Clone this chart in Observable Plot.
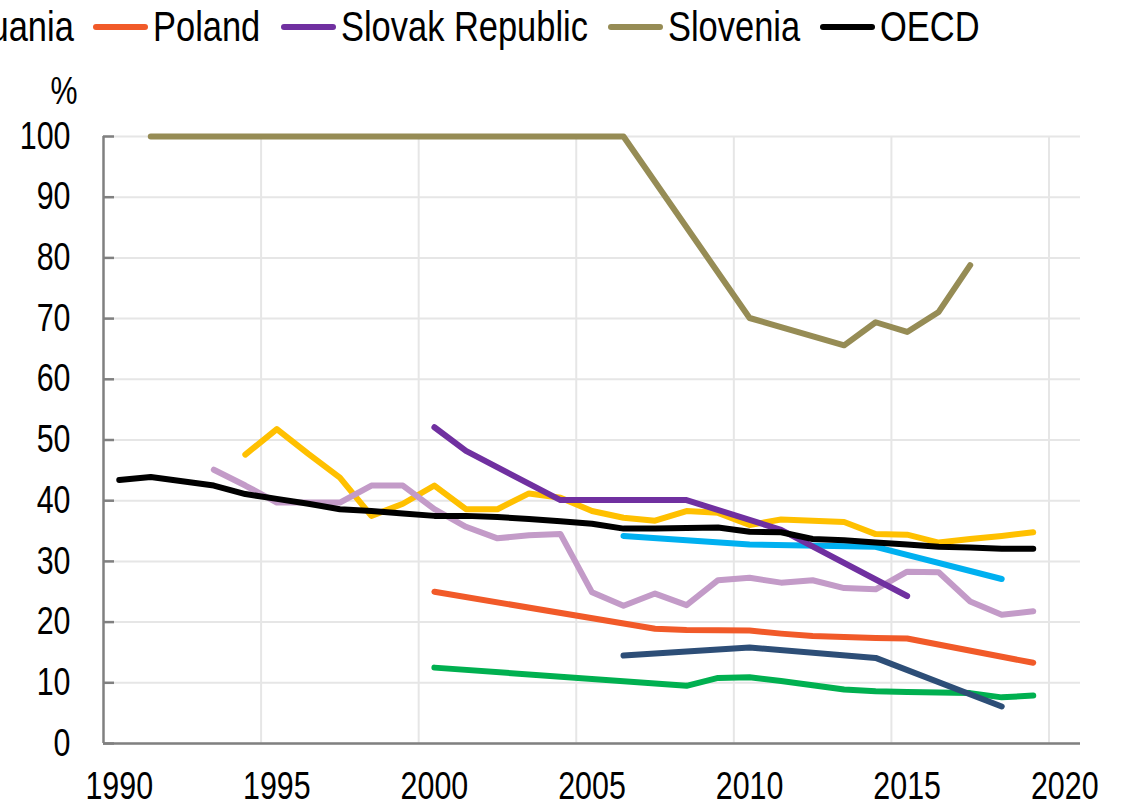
<!DOCTYPE html>
<html>
<head>
<meta charset="utf-8">
<script src="https://cdn.jsdelivr.net/npm/d3@7"></script>
<script src="https://cdn.jsdelivr.net/npm/@observablehq/plot@0.6"></script>
<style>
  html, body { margin: 0; padding: 0; background: #fff; }
  body { width: 1127px; height: 807px; overflow: hidden; font-family: "Liberation Sans", Arial, sans-serif; }
  #legend { position: relative; width: 1127px; height: 55px; overflow: hidden; }
  #legend .row { position: absolute; top: 6px; left: 0; display: flex; align-items: center; white-space: nowrap; font-size: 42px; line-height: 42px; color: #000; }
  #legend .item { display: flex; align-items: center; margin-right: 20px; }
  #legend .sw { display: inline-block; flex: none; width: 55px; height: 6px; border-radius: 3px; margin-right: 5px; }
  #legend .lw { display: inline-block; flex: none; overflow: visible; }
  #legend .lt { display: inline-block; transform: scaleX(0.82); transform-origin: 0 50%; }
  #chart svg { display: block; }
</style>
</head>
<body>
<div id="legend"><div class="row"></div></div>
<div id="chart"></div>
<script>
// ---- data ----
const seriesNames = ["Czech Republic", "Estonia", "Hungary", "Latvia", "Lithuania", "Poland", "Slovak Republic", "Slovenia", "OECD"];
const seriesColors = ["#FFC000", "#00B050", "#C39BC8", "#00B0F0", "#2D4E77", "#F15A29", "#7030A0", "#968C55", "#000000"];

const czechYears = [1994,1995,1996,1997,1998,1999,2000,2001,2002,2003,2004,2005,2006,2007,2008,2009,2010,2011,2012,2013,2014,2015,2016,2017,2018,2019];
const czechValues = [47.6,51.8,47.7,43.8,37.5,39.5,42.5,38.6,38.6,41.2,40.5,38.3,37.2,36.7,38.3,38.0,36.0,36.9,36.7,36.5,34.5,34.4,33.1,33.7,34.2,34.8];

const estoniaYears = [2000,2008,2009,2010,2011,2012,2013,2014,2015,2016,2017,2018,2019];
const estoniaValues = [12.5,9.5,10.8,10.9,10.3,9.6,8.9,8.6,8.5,8.4,8.3,7.6,7.9];

const hungaryYears = [1993,1994,1995,1996,1997,1998,1999,2000,2001,2002,2003,2004,2005,2006,2007,2008,2009,2010,2011,2012,2013,2014,2015,2016,2017,2018,2019];
const hungaryValues = [45.1,42.5,39.7,39.7,39.7,42.5,42.5,38.6,35.7,33.8,34.3,34.5,24.9,22.7,24.7,22.8,26.9,27.3,26.5,26.9,25.6,25.4,28.3,28.2,23.4,21.2,21.8];

const latviaYears = [2006,2010,2014,2018];
const latviaValues = [34.2,32.8,32.4,27.1];

const lithuaniaYears = [2006,2010,2014,2018];
const lithuaniaValues = [14.5,15.8,14.1,6.1];

const polandYears = [2000,2007,2008,2010,2011,2012,2014,2015,2019];
const polandValues = [25.0,18.9,18.7,18.6,18.1,17.7,17.4,17.3,13.3];

const slovakYears = [2000,2001,2004,2008,2011,2015];
const slovakValues = [52.1,48.2,40.1,40.1,35.2,24.3];

const sloveniaYears = [1991,2006,2010,2013,2014,2015,2016,2017];
const sloveniaValues = [100,100,70.1,65.6,69.4,67.8,71.1,78.8];

const oecdYears = [1990,1991,1993,1994,1995,1996,1997,1998,1999,2000,2001,2002,2003,2004,2005,2006,2007,2008,2009,2010,2011,2012,2013,2014,2015,2016,2017,2018,2019];
const oecdValues = [43.4,43.9,42.5,41.1,40.3,39.5,38.6,38.3,37.9,37.5,37.5,37.3,37.0,36.6,36.2,35.4,35.4,35.5,35.6,34.9,34.8,33.7,33.5,33.1,32.8,32.4,32.3,32.1,32.1];

const yTicks = [0,10,20,30,40,50,60,70,80,90,100];
const xTickYears = [1990,1995,2000,2005,2010,2015,2020];
const xDomain = [1990, 2021];
const legendShown = ["Lithuania", "Poland", "Slovak Republic", "Slovenia", "OECD"];

// ---- build table ----
const seriesData = [
  [czechYears, czechValues], [estoniaYears, estoniaValues], [hungaryYears, hungaryValues],
  [latviaYears, latviaValues], [lithuaniaYears, lithuaniaValues], [polandYears, polandValues],
  [slovakYears, slovakValues], [sloveniaYears, sloveniaValues], [oecdYears, oecdValues]
];
const rows = [];
seriesData.forEach(([ys, vs], i) => {
  ys.forEach((yr, j) => rows.push({series: seriesNames[i], year: yr + 0.5, value: vs[j]}));
});

const FONT = '"Liberation Sans", Arial, sans-serif';
const NARROW = 0.8; // emulate Arial Narrow by compressing Liberation Sans horizontally
const FS = 38;

const chart = Plot.plot({
  width: 1127,
  height: 752,
  marginLeft: 103,
  marginRight: 47,
  marginTop: 81,
  marginBottom: 64,
  style: {fontFamily: FONT, fontSize: FS + "px", color: "#000", background: "#fff"},
  x: {domain: xDomain},
  y: {domain: [0, 100]},
  color: {domain: seriesNames, range: seriesColors},
  marks: [
    Plot.gridY(yTicks, {stroke: "#e6e6e6", strokeOpacity: 1, strokeWidth: 2}),
    Plot.gridX(xTickYears.slice(1), {stroke: "#e6e6e6", strokeOpacity: 1, strokeWidth: 2}),
    Plot.ruleX([xDomain[0]], {stroke: "#808080", strokeWidth: 2.5}),
    Plot.ruleY([0], {stroke: "#808080", strokeWidth: 2.5}),
    Plot.axisY(yTicks, {tickSize: -11, tickPadding: 44, stroke: "#808080", strokeWidth: 2.5, label: null, fontSize: FS, fill: "#000"}),
    Plot.axisX(xTickYears.map(d => d + 0.5), {tickSize: 0, tickPadding: 29, tickFormat: d => String(Math.floor(d)), label: null, fontSize: FS, fill: "#000"}),
    Plot.line(rows, {x: "year", y: "value", z: "series", stroke: "series", strokeWidth: 6, strokeLinecap: "round", strokeLinejoin: "round"}),
    Plot.text(["%"], {frameAnchor: "top-left", text: d => d, dx: -53, dy: -33, lineAnchor: "bottom", fontSize: FS, fill: "#000"})
  ]
});
document.getElementById("chart").appendChild(chart);

// compress every SVG text horizontally (keeps its anchor), like Arial Narrow
chart.querySelectorAll("text").forEach(t => {
  const L = t.getComputedTextLength();
  if (L > 0) {
    t.setAttribute("textLength", (L * NARROW).toFixed(2));
    t.setAttribute("lengthAdjust", "spacingAndGlyphs");
  }
});

// ---- legend ----
const row = document.querySelector("#legend .row");
const labels = [];
legendShown.forEach(name => {
  const item = document.createElement("span");
  item.className = "item";
  const sw = document.createElement("span");
  sw.className = "sw";
  sw.style.background = seriesColors[seriesNames.indexOf(name)];
  const lw = document.createElement("span");
  lw.className = "lw";
  const lt = document.createElement("span");
  lt.className = "lt";
  lt.textContent = name;
  lw.appendChild(lt);
  item.appendChild(sw);
  item.appendChild(lw);
  row.appendChild(item);
  labels.push([lw, lt]);
});
labels.forEach(([lw, lt]) => { lw.style.width = (lt.offsetWidth * 0.82) + "px"; });
// shift the row so that it is cropped on the left like the reference
const second = row.children[1];
row.style.left = (93 - second.offsetLeft) + "px";
</script>
</body>
</html>
